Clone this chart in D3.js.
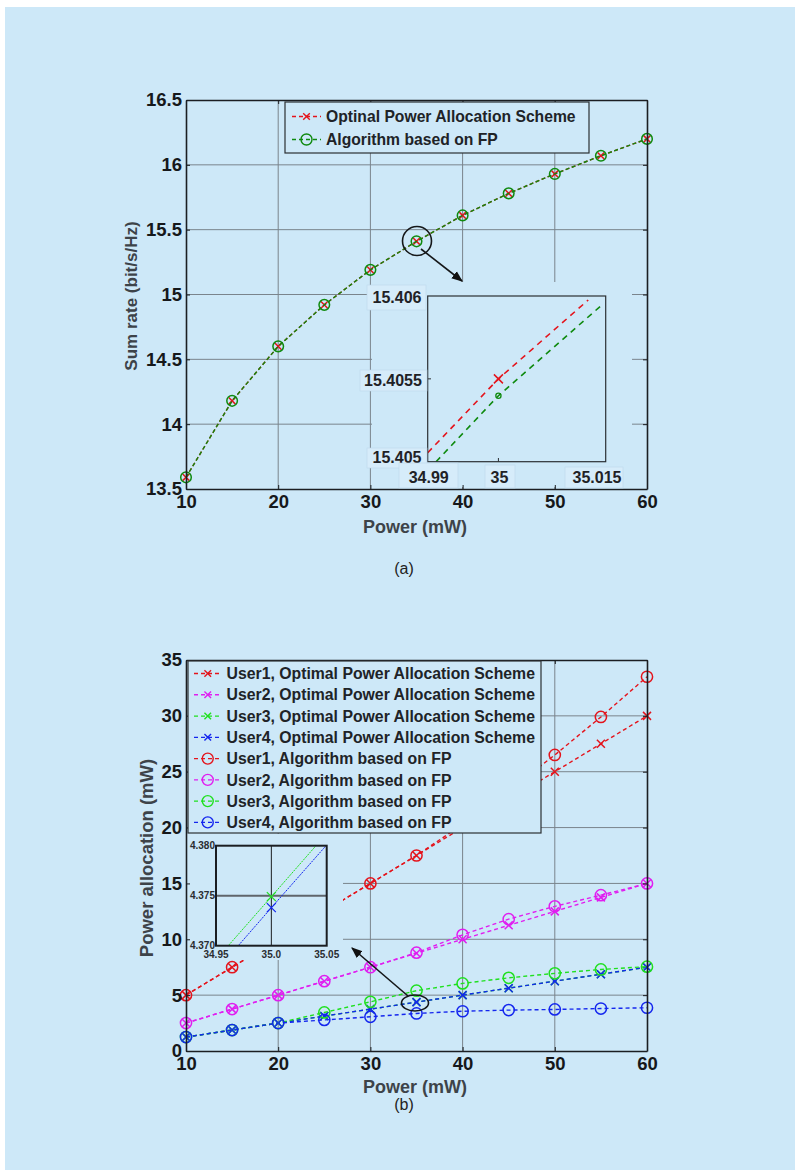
<!DOCTYPE html>
<html lang="en">
<head>
<meta charset="UTF-8" />
<title>Sum rate and power allocation</title>
<style>
  body { margin: 0; background: #fff; }
  svg { display: block; }
  text { font-family: "Liberation Sans", Arial, sans-serif; }
</style>
</head>
<body>
<div id="chart"></div>
<script src="https://d3js.org/d3.v7.min.js"></script>
<script>
// ---- data ----
const powers = [10, 15, 20, 25, 30, 35, 40, 45, 50, 55, 60];
const sumRateOpt = [13.59, 14.18, 14.60, 14.92, 15.19, 15.41, 15.61, 15.78, 15.93, 16.07, 16.20];
const sumRateFP = [13.59, 14.18, 14.60, 14.92, 15.19, 15.41, 15.61, 15.78, 15.93, 16.07, 16.20];

// zoomed view (a)
const zoomAOptX = [34.99, 35, 35.0127];
const zoomAOptY = [15.405054, 15.4055, 15.405976];
const zoomAFPX = [34.99118, 35, 35.01487];
const zoomAFPY = [15.405, 15.405398, 15.405955];
const zoomATicksX = [34.99, 35, 35.015];
const zoomATicksY = [15.405, 15.4055, 15.406];

// power allocation (b)
const user1Opt = [5, 7.5, 10, 12.5, 15, 17.5, 20, 22.5, 25, 27.5, 30];
const user2Opt = [2.5, 3.75, 5, 6.25, 7.5, 8.75, 10, 11.25, 12.5, 13.75, 15];
const user3Opt = [1.25, 1.875, 2.5, 3.125, 3.75, 4.375, 5, 5.625, 6.25, 6.875, 7.5];
const user4Opt = [1.25, 1.875, 2.5, 3.125, 3.75, 4.374, 5, 5.625, 6.25, 6.875, 7.5];
const user1FP = [5, 7.5, 10, 12.5, 15, 17.5, 20.3, 23.3, 26.5, 29.9, 33.5];
const user2FP = [2.5, 3.75, 5, 6.25, 7.5, 8.8, 10.4, 11.8, 12.95, 13.95, 15];
const user3FP = [1.25, 1.875, 2.5, 3.45, 4.4, 5.4, 6.05, 6.55, 6.95, 7.3, 7.55];
const user4FP = [1.25, 1.875, 2.5, 2.78, 3.06, 3.36, 3.56, 3.66, 3.72, 3.8, 3.87];

// zoomed view (b)
const zoomBUser3X = [34.9611, 35, 35.0403];
const zoomBUser3Y = [4.370, 4.3749, 4.380];
const zoomBUser4X = [34.9701, 35, 35.0494];
const zoomBUser4Y = [4.370, 4.3738, 4.380];
const zoomBTicksX = [34.95, 35.0, 35.05];
const zoomBTicksY = [4.370, 4.375, 4.380];

const xTicks = [10, 20, 30, 40, 50, 60];
const yTicksA = [13.5, 14, 14.5, 15, 15.5, 16, 16.5];
const yTicksB = [0, 5, 10, 15, 20, 25, 30, 35];

const legendA = ["Optinal Power Allocation Scheme", "Algorithm based on FP"];
const legendB = [
  "User1, Optimal Power Allocation Scheme", "User2, Optimal Power Allocation Scheme",
  "User3, Optimal Power Allocation Scheme", "User4, Optimal Power Allocation Scheme",
  "User1, Algorithm based on FP", "User2, Algorithm based on FP",
  "User3, Algorithm based on FP", "User4, Algorithm based on FP"
];

// ---- drawing ----
const BG = "#cde8f8";
const RED = "#e4141c", MAG = "#e01ef0", GRN = "#1fe01f", BLU = "#1426ee", DGRN = "#0f8a0f";

const svg = d3.select("#chart").append("svg").attr("width", 800).attr("height", 1176);
svg.append("rect").attr("x", 5).attr("y", 7).attr("width", 790).attr("height", 1163).attr("fill", BG);

const defs = svg.append("defs");
defs.append("marker").attr("id", "arrow").attr("viewBox", "0 0 10 10")
  .attr("refX", 9).attr("refY", 5).attr("markerWidth", 7).attr("markerHeight", 7)
  .attr("orient", "auto-start-reverse")
  .append("path").attr("d", "M0,1 L10,5 L0,9 Z").attr("fill", "#111");

function cross(s) { return `M${-s},${-s}L${s},${s}M${-s},${s}L${s},${-s}`; }

function drawFrame(g, x, y, yTicks) {
  const [x0, x1] = x.range();
  const [y0, y1] = y.range();
  g.append("g").selectAll("line").data(xTicks.slice(1, -1)).join("line")
    .attr("x1", d => x(d)).attr("x2", d => x(d)).attr("y1", y0).attr("y2", y1)
    .attr("stroke", "#7a848c").attr("stroke-width", 1);
  g.append("g").selectAll("line").data(yTicks.slice(1, -1)).join("line")
    .attr("x1", x0).attr("x2", x1).attr("y1", d => y(d)).attr("y2", d => y(d))
    .attr("stroke", "#7a848c").attr("stroke-width", 1);
}

function drawAxes(g, x, y, yTicks) {
  const [x0, x1] = x.range();
  const [y0, y1] = y.range();
  const bottom = g.append("g").attr("transform", `translate(0,${y0})`)
    .call(d3.axisBottom(x).tickValues(xTicks).tickSizeInner(-4).tickSizeOuter(0).tickPadding(6));
  bottom.selectAll("text").attr("y", 6).attr("dy", "0.71em");
  g.append("g").attr("transform", `translate(${x0},0)`)
    .call(d3.axisLeft(y).tickValues(yTicks).tickSizeInner(-4).tickSizeOuter(0).tickPadding(4).tickFormat(d => d));
  g.append("g").attr("transform", `translate(0,${y1})`)
    .call(d3.axisTop(x).tickValues(xTicks).tickSizeInner(-4).tickSizeOuter(0).tickFormat(""));
  g.append("g").attr("transform", `translate(${x1},0)`)
    .call(d3.axisRight(y).tickValues(yTicks).tickSizeInner(-4).tickSizeOuter(0).tickFormat(""));
  g.selectAll(".domain").attr("stroke", "#1b1e22").attr("stroke-width", 1.6);
  g.selectAll(".tick line").attr("stroke", "#1b1e22").attr("stroke-width", 1);
  g.selectAll(".tick text").attr("font-family", "Liberation Sans, Arial, sans-serif")
    .attr("font-size", 18.5).attr("font-weight", "bold").attr("fill", "#16181b");
}

function drawSeries(g, x, y, xs, ys, color, marker, size, dash, width) {
  const pts = xs.map((d, i) => [d, ys[i]]);
  g.append("path").datum(pts)
    .attr("d", d3.line().x(d => x(d[0])).y(d => y(d[1])))
    .attr("fill", "none").attr("stroke", color).attr("stroke-width", width)
    .attr("stroke-dasharray", dash);
  const m = g.append("g").selectAll("path").data(pts).join("path")
    .attr("transform", d => `translate(${x(d[0])},${y(d[1])})`)
    .attr("fill", "none").attr("stroke", color).attr("stroke-width", 1.5);
  if (marker === "x") m.attr("d", cross(size));
  else m.attr("d", d3.arc()({ innerRadius: 0, outerRadius: size, startAngle: 0, endAngle: 2 * Math.PI }));
}

function drawLegendRow(g, x0, x1, yy, color, marker, label, fs) {
  g.append("line").attr("x1", x0).attr("x2", x1).attr("y1", yy).attr("y2", yy)
    .attr("stroke", color).attr("stroke-width", 1.3).attr("stroke-dasharray", "4,3");
  const cx = (x0 + x1) / 2;
  const m = g.append("path").attr("transform", `translate(${cx},${yy})`)
    .attr("fill", "none").attr("stroke", color).attr("stroke-width", 1.4);
  if (marker === "x") m.attr("d", cross(3.3));
  else m.attr("d", d3.arc()({ innerRadius: 0, outerRadius: 5.5, startAngle: 0, endAngle: 2 * Math.PI }));
  g.append("text").attr("x", x1 + 5).attr("y", yy).attr("dy", "0.36em")
    .attr("font-size", fs).attr("font-weight", "bold").attr("fill", "#202327").text(label);
}

// ================= panel (a) =================
const xA = d3.scaleLinear().domain([10, 60]).range([186, 647]);
const yA = d3.scaleLinear().domain([13.5, 16.5]).range([489, 100]);
const gA = svg.append("g");
drawFrame(gA, xA, yA, yTicksA);
drawSeries(gA, xA, yA, powers, sumRateOpt, RED, "x", 3.3, "4,2.5", 1.4);
drawSeries(gA, xA, yA, powers, sumRateFP, DGRN, "o", 5.3, "4,2.5", 1.4);

// pasted zoom picture covers the grid
gA.append("rect").attr("x", 372).attr("y", 282).attr("width", 260).attr("height", 205).attr("fill", BG);
drawAxes(gA, xA, yA, yTicksA);

gA.append("text").attr("transform", "translate(131,296) rotate(-90)").attr("text-anchor", "middle")
  .attr("dy", "0.36em").attr("font-size", 17).attr("font-weight", "bold").attr("fill", "#3d4349")
  .text("Sum rate (bit/s/Hz)");
gA.append("text").attr("x", 415).attr("y", 527).attr("text-anchor", "middle").attr("dy", "0.36em")
  .attr("font-size", 18).attr("font-weight", "bold").attr("fill", "#3d4349").text("Power (mW)");
svg.append("text").attr("x", 404).attr("y", 568).attr("text-anchor", "middle").attr("dy", "0.36em")
  .attr("font-family", "Liberation Serif, serif").attr("font-size", 16).attr("fill", "#222").text("(a)");

// legend (a)
const legA = gA.append("g");
legA.append("rect").attr("x", 285).attr("y", 102).attr("width", 304).attr("height", 51)
  .attr("fill", BG).attr("stroke", "#2b2f33").attr("stroke-width", 1.2);
drawLegendRow(legA, 292, 321, 116.5, RED, "x", legendA[0], 15.7);
drawLegendRow(legA, 292, 321, 139.5, DGRN, "o", legendA[1], 15.7);

// circle + arrow (a)
gA.append("circle").attr("cx", 417).attr("cy", 241).attr("r", 14.5)
  .attr("fill", "none").attr("stroke", "#151719").attr("stroke-width", 1.6);
gA.append("line").attr("x1", 421).attr("y1", 249).attr("x2", 462).attr("y2", 281)
  .attr("stroke", "#151719").attr("stroke-width", 1.6).attr("marker-end", "url(#arrow)");

// zoom (a)
const zxA = d3.scaleLinear().domain([34.99, 35.015]).range([427.7, 604.5]);
const zyA = d3.scaleLinear().domain([15.405, 15.406]).range([461.7, 296]);
const zA = gA.append("g");
defs.append("clipPath").attr("id", "clipA").append("rect")
  .attr("x", 427.7).attr("y", 296).attr("width", 178).attr("height", 165.7);
const zAc = zA.append("g").attr("clip-path", "url(#clipA)");
const optPtsA = zoomAOptX.map((d, i) => [d, zoomAOptY[i]]);
const fpPtsA = zoomAFPX.map((d, i) => [d, zoomAFPY[i]]);
const zlineA = d3.line().x(d => zxA(d[0])).y(d => zyA(d[1]));
zAc.append("path").datum(optPtsA).attr("d", zlineA).attr("fill", "none")
  .attr("stroke", RED).attr("stroke-width", 1.6).attr("stroke-dasharray", "6,5");
zAc.append("path").datum(fpPtsA).attr("d", zlineA).attr("fill", "none")
  .attr("stroke", DGRN).attr("stroke-width", 1.6).attr("stroke-dasharray", "6,5");
zAc.append("path").attr("d", cross(4.5))
  .attr("transform", `translate(${zxA(zoomAOptX[1])},${zyA(zoomAOptY[1])})`)
  .attr("stroke", RED).attr("stroke-width", 1.5).attr("fill", "none");
zAc.append("circle").attr("cx", zxA(zoomAFPX[1])).attr("cy", zyA(zoomAFPY[1])).attr("r", 2.6)
  .attr("stroke", DGRN).attr("stroke-width", 1.3).attr("fill", "none");
zA.append("rect").attr("x", 427.7).attr("y", 296).attr("width", 178).attr("height", 165.7)
  .attr("fill", "none").attr("stroke", "#2b2f33").attr("stroke-width", 1.2);
zA.selectAll(".ztx").data([zoomATicksX[1]]).join("line")
  .attr("x1", d => zxA(d)).attr("x2", d => zxA(d)).attr("y1", 461.7).attr("y2", 458)
  .attr("stroke", "#2b2f33");
zA.selectAll(".zty").data([zoomATicksY[1]]).join("line")
  .attr("x1", 427.7).attr("x2", 431).attr("y1", d => zyA(d)).attr("y2", d => zyA(d))
  .attr("stroke", "#2b2f33");

// tick labels of the zoom picture sit on small pasted patches
const patchFill = "#d6ecfa", patchStroke = "#bcd8ec";
const yPatch = [[367, 448, 60, 20], [360, 370, 67, 21], [367, 285, 59, 25]];
const yLabelX = [397, 393, 397];
const yLabelDY = [-4, 1, 1];
const yFmtA = [d3.format(".3f"), d3.format(".4f"), d3.format(".3f")];
zoomATicksY.forEach((v, i) => {
  const p = yPatch[i];
  zA.append("rect").attr("x", p[0]).attr("y", p[1]).attr("width", p[2]).attr("height", p[3])
    .attr("fill", patchFill).attr("stroke", patchStroke).attr("stroke-width", 0.6);
  zA.append("text").attr("x", yLabelX[i]).attr("y", zyA(v) + yLabelDY[i]).attr("text-anchor", "middle")
    .attr("dy", "0.36em").attr("font-family", "Lato, Open Sans, sans-serif").attr("font-weight", "bold")
    .attr("font-size", 16).attr("fill", "#1f2226").text(yFmtA[i](v));
});
const xPatch = [[399, 463, 59, 25], [485, 465, 30, 23], [565, 467, 58, 21]];
const xLabelDX = [1, 1, -7.5];
const xFmtA = [d3.format(".2f"), d3.format("d"), d3.format(".3f")];
zoomATicksX.forEach((v, i) => {
  const p = xPatch[i];
  zA.append("rect").attr("x", p[0]).attr("y", p[1]).attr("width", p[2]).attr("height", p[3])
    .attr("fill", patchFill).attr("stroke", patchStroke).attr("stroke-width", 0.6);
  zA.append("text").attr("x", zxA(v) + xLabelDX[i]).attr("y", 477).attr("text-anchor", "middle")
    .attr("dy", "0.36em").attr("font-family", "Lato, Open Sans, sans-serif").attr("font-weight", "bold")
    .attr("font-size", 16).attr("fill", "#1f2226").text(xFmtA[i](v));
});

// ================= panel (b) =================
const xB = d3.scaleLinear().domain([10, 60]).range([186, 647]);
const yB = d3.scaleLinear().domain([0, 35]).range([1051, 660]);
const gB = svg.append("g");
drawFrame(gB, xB, yB, yTicksB);
drawSeries(gB, xB, yB, powers, user1Opt, RED, "x", 4, "4,3", 1.4);
drawSeries(gB, xB, yB, powers, user2Opt, MAG, "x", 4, "4,3", 1.4);
drawSeries(gB, xB, yB, powers, user3Opt, GRN, "x", 4, "4,3", 1.4);
drawSeries(gB, xB, yB, powers, user4Opt, BLU, "x", 4, "4,3", 1.4);
drawSeries(gB, xB, yB, powers, user1FP, RED, "o", 5.6, "4,3", 1.4);
drawSeries(gB, xB, yB, powers, user2FP, MAG, "o", 5.6, "4,3", 1.4);
drawSeries(gB, xB, yB, powers, user3FP, GRN, "o", 5.6, "4,3", 1.4);
drawSeries(gB, xB, yB, powers, user4FP, BLU, "o", 5.6, "4,3", 1.4);

gB.append("rect").attr("x", 187).attr("y", 834).attr("width", 156).attr("height", 126).attr("fill", BG);
drawAxes(gB, xB, yB, yTicksB);

gB.append("text").attr("transform", "translate(146,858) rotate(-90)").attr("text-anchor", "middle")
  .attr("dy", "0.36em").attr("font-size", 18.5).attr("font-weight", "bold").attr("fill", "#3d4349")
  .text("Power allocation (mW)");
gB.append("text").attr("x", 415).attr("y", 1087).attr("text-anchor", "middle").attr("dy", "0.36em")
  .attr("font-size", 18).attr("font-weight", "bold").attr("fill", "#3d4349").text("Power (mW)");
svg.append("text").attr("x", 404).attr("y", 1104).attr("text-anchor", "middle").attr("dy", "0.36em")
  .attr("font-family", "Liberation Serif, serif").attr("font-size", 16).attr("fill", "#222").text("(b)");

// legend (b)
const legB = gB.append("g");
legB.append("rect").attr("x", 188).attr("y", 661).attr("width", 353).attr("height", 172)
  .attr("fill", BG).attr("stroke", "#2b2f33").attr("stroke-width", 1.2);
const legColors = [RED, MAG, GRN, BLU, RED, MAG, GRN, BLU];
legendB.forEach((t, i) => {
  drawLegendRow(legB, 194, 221.5, 673.5 + i * 21.27, legColors[i], i < 4 ? "x" : "o", t, 15.8);
});

// ellipse + arrow (b)
gB.append("ellipse").attr("cx", 415).attr("cy", 1003).attr("rx", 13.5).attr("ry", 8)
  .attr("fill", "none").attr("stroke", "#151719").attr("stroke-width", 1.6);
gB.append("line").attr("x1", 408).attr("y1", 996).attr("x2", 352).attr("y2", 948)
  .attr("stroke", "#151719").attr("stroke-width", 1.6).attr("marker-end", "url(#arrow)");

// zoom (b)
const zxB = d3.scaleLinear().domain([34.95, 35.05]).range([216, 326.7]);
const zyB = d3.scaleLinear().domain([4.370, 4.380]).range([945.7, 845.7]);
const zB = gB.append("g");
defs.append("clipPath").attr("id", "clipB").append("rect")
  .attr("x", 216).attr("y", 845.7).attr("width", 110.7).attr("height", 100);
zB.append("line").attr("x1", zxB(35)).attr("x2", zxB(35)).attr("y1", 845.7).attr("y2", 945.7)
  .attr("stroke", "#1b1e22").attr("stroke-width", 1);
zB.append("line").attr("x1", 216).attr("x2", 326.7).attr("y1", zyB(4.375)).attr("y2", zyB(4.375))
  .attr("stroke", "#5f656b").attr("stroke-width", 2);
const zBc = zB.append("g").attr("clip-path", "url(#clipB)");
const zlineB = d3.line().x(d => zxB(d[0])).y(d => zyB(d[1]));
[[zoomBUser3X, zoomBUser3Y, GRN], [zoomBUser4X, zoomBUser4Y, BLU]].forEach(s => {
  const pts = s[0].map((d, i) => [d, s[1][i]]);
  zBc.append("path").datum(pts).attr("d", zlineB).attr("fill", "none")
    .attr("stroke", s[2]).attr("stroke-width", 1).attr("stroke-dasharray", "2,1");
  zBc.append("path").attr("d", cross(4.5))
    .attr("transform", `translate(${zxB(s[0][1])},${zyB(s[1][1])})`)
    .attr("stroke", s[2]).attr("stroke-width", 1.2).attr("fill", "none");
});
zB.append("rect").attr("x", 216).attr("y", 845.7).attr("width", 110.7).attr("height", 100)
  .attr("fill", "none").attr("stroke", "#1b1e22").attr("stroke-width", 2);
zB.selectAll(".zby").data(zoomBTicksY).join("text")
  .attr("x", 215).attr("y", d => zyB(d)).attr("text-anchor", "end").attr("dy", "0.36em")
  .attr("font-size", 10).attr("font-weight", "bold").attr("fill", "#2a2d31")
  .text(d => d3.format(".3f")(d));
zB.selectAll(".zbx").data(zoomBTicksX).join("text")
  .attr("x", d => zxB(d)).attr("y", 954).attr("text-anchor", "middle").attr("dy", "0.36em")
  .attr("font-size", 10).attr("font-weight", "bold").attr("fill", "#2a2d31")
  .text((d, i) => i === 1 ? d3.format(".1f")(d) : d3.format(".2f")(d));
</script>
</body>
</html>
